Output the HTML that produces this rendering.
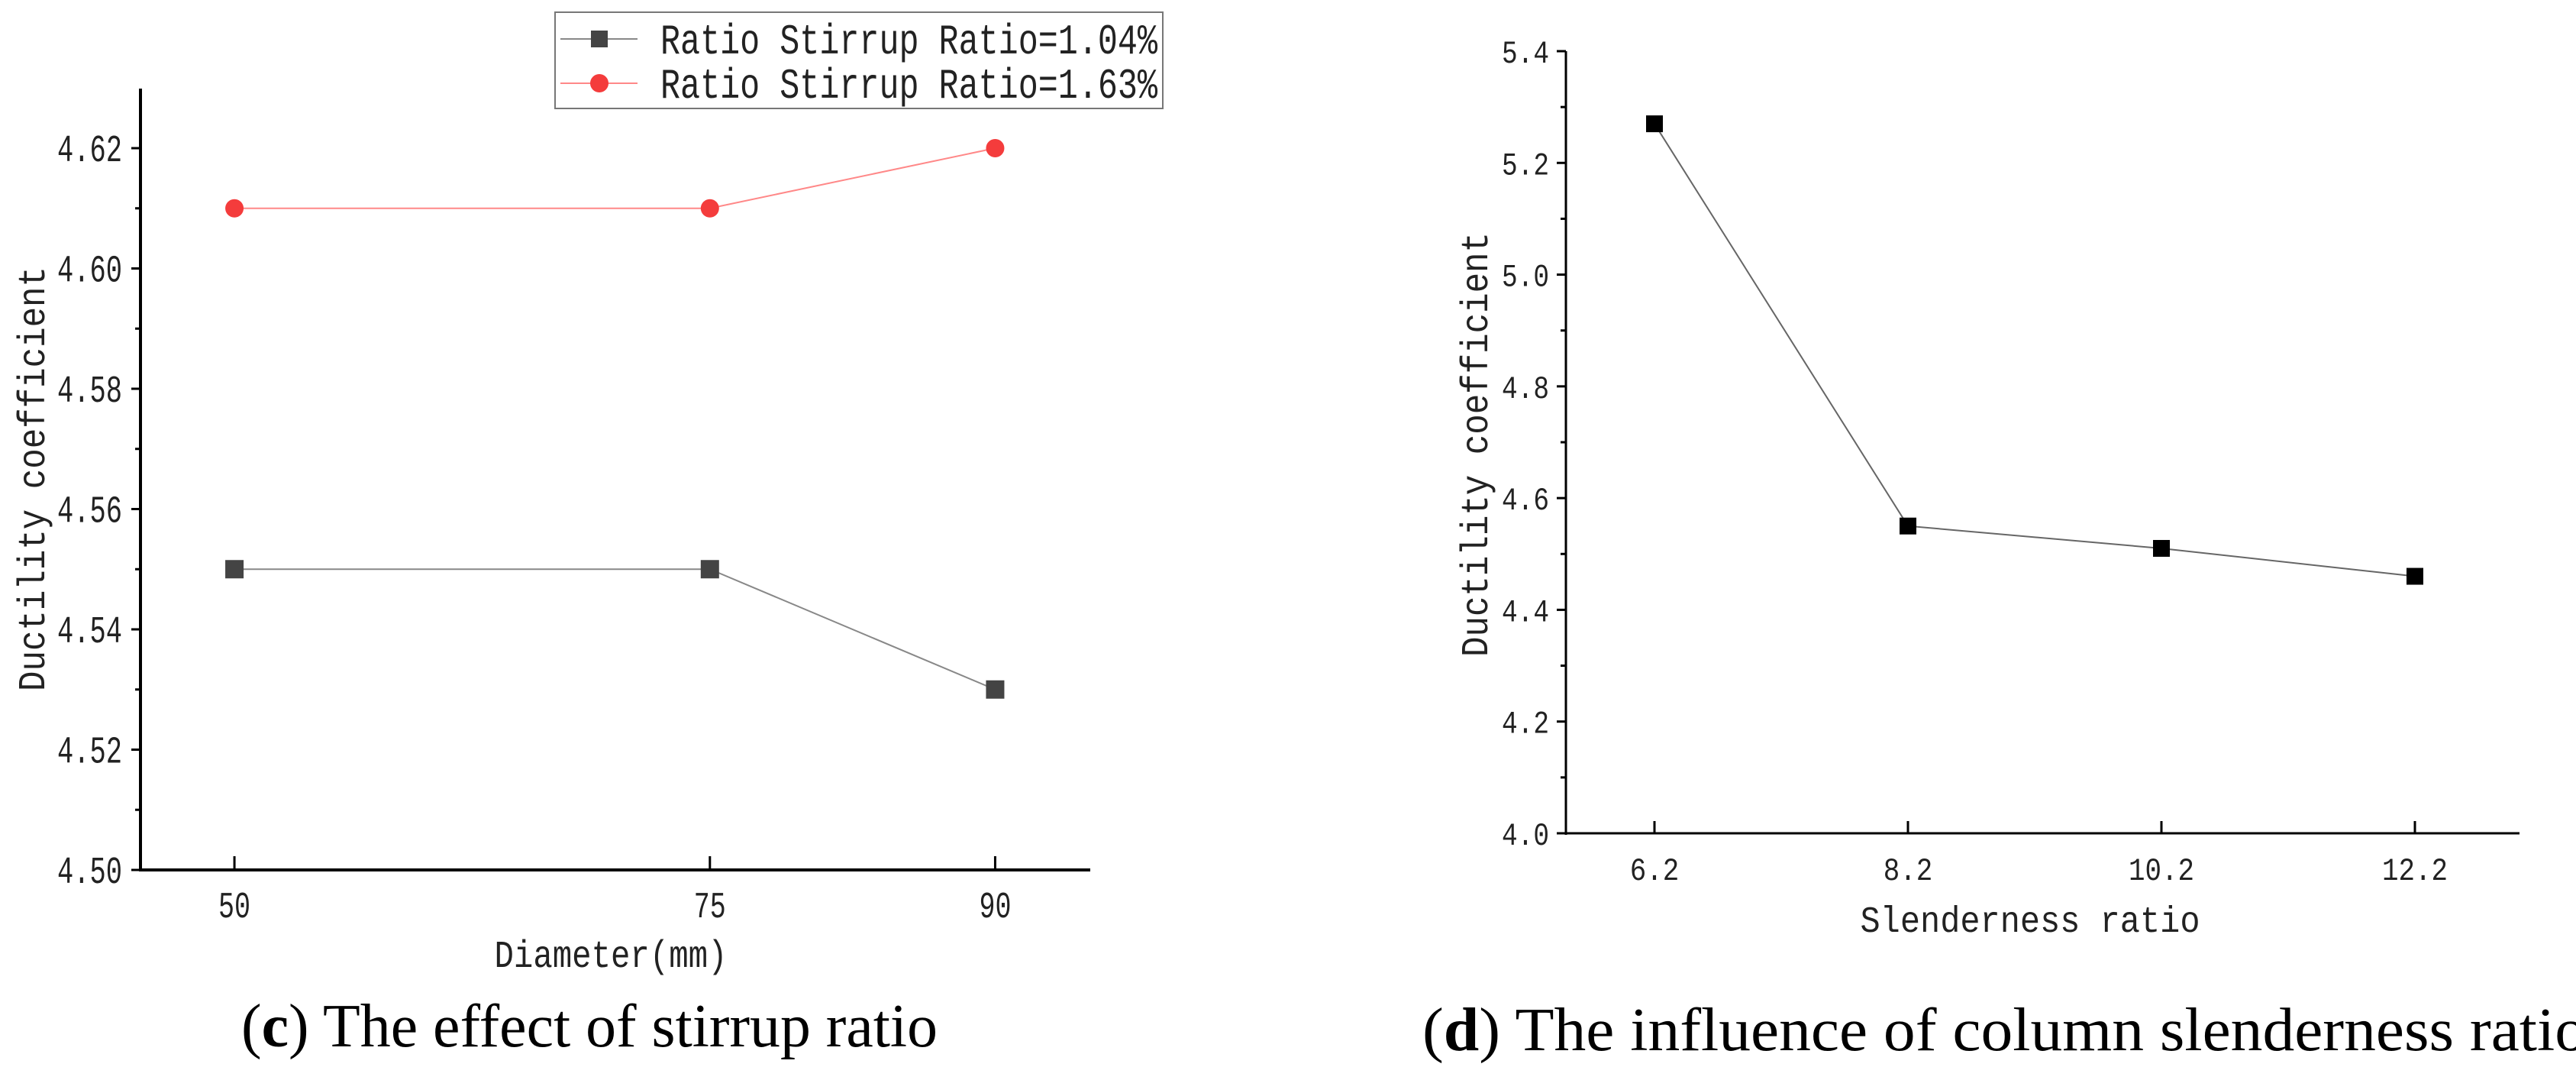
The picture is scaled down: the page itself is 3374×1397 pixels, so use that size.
<!DOCTYPE html>
<html><head><meta charset="utf-8"><style>
html,body{margin:0;padding:0;background:#fff;}
svg{display:block;}
.mono{font-family:"Liberation Mono","Noto Sans CJK SC",monospace;fill:#222;}
.serif{font-family:"Liberation Serif",serif;fill:#000;}
</style></head><body>
<svg id="fig" width="3374" height="1397" viewBox="0 0 3374 1397" xmlns="http://www.w3.org/2000/svg">
<rect width="3374" height="1397" fill="#fff"/>
<g id="chartC"></g>
<g id="chartD"></g>
<text class="serif" x="316" y="1370" font-size="80" textLength="912" lengthAdjust="spacingAndGlyphs">(<tspan font-weight="bold">c</tspan>) The effect of stirrup ratio</text>
<text class="serif" x="1863" y="1375" font-size="80" textLength="1525" lengthAdjust="spacingAndGlyphs">(<tspan font-weight="bold">d</tspan>) The influence of column slenderness ratio</text>
</svg>
<script>
const cDiameters = [50, 75, 90];
const cSeriesLow = [4.55, 4.55, 4.53];
const cSeriesHigh = [4.61, 4.61, 4.62];
const cYTicks = ["4.50","4.52","4.54","4.56","4.58","4.60","4.62"];
const cLegend = ["Ratio Stirrup Ratio=1.04%","Ratio Stirrup Ratio=1.63%"];
const dCategories = ["6.2","8.2","10.2","12.2"];
const dValues = [5.27, 4.55, 4.51, 4.46];
const dYTicks = ["4.0","4.2","4.4","4.6","4.8","5.0","5.2","5.4"];

const NS = "http://www.w3.org/2000/svg";
function mk(parent, tag, attrs, text){
  const e = document.createElementNS(NS, tag);
  for (const k in attrs) e.setAttribute(k, attrs[k]);
  if (text !== undefined) e.textContent = text;
  parent.appendChild(e);
  return e;
}

// ---- Chart C ----
(function(){
  const g = document.getElementById('chartC');
  const L=184, R=1428, T=116, B=1139;
  const xMin=45.06, xMax=95.0, yMin=4.50, yMax=4.62, yTop=194;
  const xs = v => L + (v - xMin)/(xMax - xMin)*(R - L);
  const ys = v => B - (v - yMin)/(yMax - yMin)*(B - yTop);
  let e;
  e = mk(g,'line',{x1:L,y1:T,x2:L,y2:B+2,stroke:'#000','stroke-width':4});
   
  e = mk(g,'line',{x1:L-2,y1:B,x2:R,y2:B,stroke:'#000','stroke-width':4});
   
  cYTicks.forEach((t,i)=>{
    const y = ys(parseFloat(t));
    mk(g,'line',{x1:L-12,y1:y,x2:L,y2:y,stroke:'#000','stroke-width':3});
    if (i < cYTicks.length-1){ const ym = ys(parseFloat(t)+0.01); mk(g,'line',{x1:L-7,y1:ym,x2:L,y2:ym,stroke:'#000','stroke-width':3}); }
    e = mk(g,'text',{class:'mono',x:160,y:y+17,'font-size':50,'text-anchor':'end',textLength:85,lengthAdjust:'spacingAndGlyphs'},t);
     
  });
  cDiameters.forEach(d=>{
    const x = xs(d);
    mk(g,'line',{x1:x,y1:B-18,x2:x,y2:B,stroke:'#000','stroke-width':3});
    e = mk(g,'text',{class:'mono',x:x,y:1201,'font-size':48,'text-anchor':'middle',textLength:String(d).length*21,lengthAdjust:'spacingAndGlyphs'},String(d));
     
  });
  e = mk(g,'text',{class:'mono',x:800,y:1266,'font-size':50,'text-anchor':'middle',textLength:305,lengthAdjust:'spacingAndGlyphs'},'Diameter(mm)');
   
  e = mk(g,'text',{class:'mono',x:0,y:0,'font-size':50,'text-anchor':'middle',textLength:556,lengthAdjust:'spacingAndGlyphs',transform:'translate(58,627) rotate(-90)'},'Ductility coefficient');
   
  // series
  const lowPts = cDiameters.map((d,i)=>xs(d)+','+ys(cSeriesLow[i])).join(' ');
  const highPts = cDiameters.map((d,i)=>xs(d)+','+ys(cSeriesHigh[i])).join(' ');
  e = mk(g,'polyline',{points:lowPts,fill:'none',stroke:'#888','stroke-width':2});
   
  e = mk(g,'polyline',{points:highPts,fill:'none',stroke:'#f88','stroke-width':2});
   
  cDiameters.forEach((d,i)=>{
    e = mk(g,'rect',{x:xs(d)-12,y:ys(cSeriesLow[i])-12,width:24,height:24,fill:'#444'});
     
    e = mk(g,'circle',{cx:xs(d),cy:ys(cSeriesHigh[i]),r:12,fill:'#f43c3c'});
     
  });
  // legend
  const lg = mk(g,'g',{});
   
  mk(lg,'rect',{x:727,y:16,width:796,height:126,fill:'#fff',stroke:'#777','stroke-width':2});
  [51,109].forEach((y,i)=>{
    const row = mk(lg,'g',{});
     
    mk(row,'line',{x1:734,y1:y,x2:835,y2:y,stroke:i?'#f88':'#888','stroke-width':2});
    if(i) mk(row,'circle',{cx:785,cy:y,r:12,fill:'#f43c3c'});
    else mk(row,'rect',{x:774,y:y-11,width:22,height:22,fill:'#444'});
    mk(row,'text',{class:'mono',x:865,y:y+19,'font-size':56,textLength:651,lengthAdjust:'spacingAndGlyphs'},cLegend[i]);
  });
})();

// ---- Chart D ----
(function(){
  const g = document.getElementById('chartD');
  const L=2051, R=3300, T=67, B=1091;
  const yMin=4.0, yMax=5.4;
  const x0=2167, step=332;
  const xs = i => x0 + i*step;
  const ys = v => B - (v - yMin)/(yMax - yMin)*(B - T);
  let e;
  e = mk(g,'line',{x1:L,y1:T,x2:L,y2:B+2,stroke:'#000','stroke-width':3});
   
  e = mk(g,'line',{x1:L-2,y1:B,x2:R,y2:B,stroke:'#000','stroke-width':3});
   
  dYTicks.forEach((t,i)=>{
    const y = ys(parseFloat(t));
    mk(g,'line',{x1:L-12,y1:y,x2:L,y2:y,stroke:'#000','stroke-width':3});
    if (i < dYTicks.length-1){ const ym = ys(parseFloat(t)+0.1); mk(g,'line',{x1:L-7,y1:ym,x2:L,y2:ym,stroke:'#000','stroke-width':3}); }
    e = mk(g,'text',{class:'mono',x:2029,y:y+15,'font-size':42,'text-anchor':'end',textLength:62,lengthAdjust:'spacingAndGlyphs'},t);
     
  });
  dCategories.forEach((c,i)=>{
    const x = xs(i);
    mk(g,'line',{x1:x,y1:B-16,x2:x,y2:B,stroke:'#000','stroke-width':3});
    e = mk(g,'text',{class:'mono',x:x,y:1152,'font-size':42,'text-anchor':'middle',textLength:c.length*21.5,lengthAdjust:'spacingAndGlyphs'},c);
     
  });
  e = mk(g,'text',{class:'mono',x:2659,y:1220,'font-size':48,'text-anchor':'middle',textLength:445,lengthAdjust:'spacingAndGlyphs'},'Slenderness ratio');
   
  e = mk(g,'text',{class:'mono',x:0,y:0,'font-size':50,'text-anchor':'middle',textLength:556,lengthAdjust:'spacingAndGlyphs',transform:'translate(1948,582) rotate(-90)'},'Ductility coefficient');
   
  const pts = dValues.map((v,i)=>xs(i)+','+ys(v)).join(' ');
  e = mk(g,'polyline',{points:pts,fill:'none',stroke:'#666','stroke-width':2});
   
  dValues.forEach((v,i)=>{
    e = mk(g,'rect',{x:xs(i)-11,y:ys(v)-11,width:22,height:22,fill:'#000'});
     
  });
})();
</script>
</body></html>
